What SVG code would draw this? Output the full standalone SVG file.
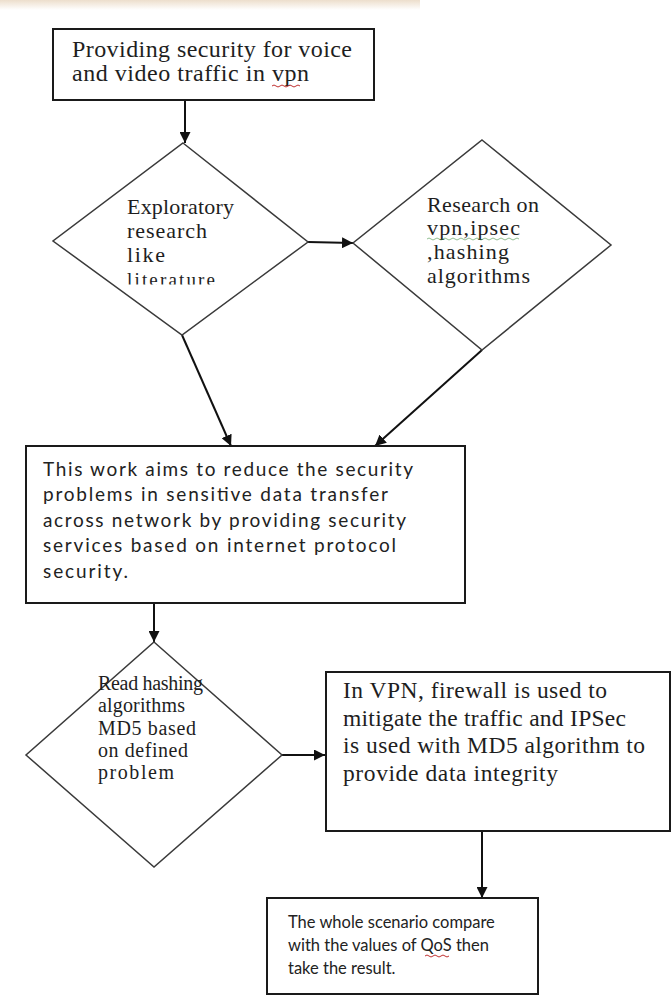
<svg xmlns="http://www.w3.org/2000/svg" width="672" height="1002" viewBox="0 0 672 1002">
<style>
.box{fill:#fff;stroke:#1a1a1a;stroke-width:2}
.dia{fill:#fff;stroke:#3a3a3a;stroke-width:1.5}
.serif{font-family:"Liberation Serif","Times New Roman",serif;fill:#1e1e1e}
.sans{font-family:Lato,"Liberation Sans",sans-serif;fill:#222}
.con{stroke:#111;stroke-width:2;fill:none;marker-end:url(#arr)}
</style>
<defs>
<marker id="arr" viewBox="0 0 10 10" refX="10" refY="5" markerWidth="5.5" markerHeight="5.5" orient="auto" markerUnits="strokeWidth">
<path d="M0,0 L10,5 L0,10 z" fill="#111"/>
</marker>
<linearGradient id="wm" x1="0" y1="0" x2="0" y2="1">
<stop offset="0" stop-color="#e8d6bf" stop-opacity="0.8"/>
<stop offset="1" stop-color="#e8d6bf" stop-opacity="0"/>
</linearGradient>
<clipPath id="clip1"><rect x="100" y="150" width="160" height="134.5"/></clipPath>
</defs>
<rect width="672" height="1002" fill="#fff"/>
<rect x="0" y="0" width="420" height="10" fill="url(#wm)"/>

<g id="connectors">
<line class="con" x1="185" y1="100" x2="185" y2="143"/>
<line class="con" x1="308" y1="242" x2="353" y2="243"/>
<line class="con" x1="182" y1="335" x2="231" y2="446"/>
<line class="con" x1="482" y1="350" x2="375" y2="446"/>
<line class="con" x1="154" y1="603" x2="154" y2="642"/>
<line class="con" x1="282" y1="755" x2="325" y2="755"/>
<line class="con" x1="482" y1="831" x2="482" y2="898"/>
</g>

<g id="n1">
<rect class="box" x="53" y="29" width="321" height="71"/>
<text class="serif" font-size="24" x="72" y="57" textLength="280">Providing security for voice</text>
<text class="serif" font-size="24" x="72" y="81" textLength="237">and video traffic in vpn</text>
<path d="M272,86 q2,-2 4,0 t4,0 t4,0 t4,0 t4,0 t4,0 t4,0" fill="none" stroke="#c03030" stroke-width="1"/>
</g>

<g id="n2">
<polygon class="dia" points="183,143 308,242 182,335 53,241"/>
<text class="serif" font-size="22" x="127" y="214" textLength="107">Exploratory</text>
<text class="serif" font-size="22" x="127" y="238" textLength="80">research</text>
<text class="serif" font-size="22" x="127" y="262" textLength="38">like</text>
<text class="serif" font-size="19" x="127" y="285.5" textLength="88" clip-path="url(#clip1)">literature</text>
</g>

<g id="n3">
<polygon class="dia" points="482,140 611,245 482,350 353,243"/>
<text class="serif" font-size="22" x="427" y="212" textLength="112">Research on</text>
<text class="serif" font-size="22" x="427" y="235" textLength="93">vpn,ipsec</text>
<path d="M427,239 q2,-2 4,0 t4,0 t4,0 t4,0 t4,0 t4,0 t4,0 t4,0 t4,0 t4,0 t4,0 t4,0 t4,0 t4,0 t4,0 t4,0 t4,0 t4,0 t4,0 t4,0 t4,0 t4,0 t4,0" fill="none" stroke="#3a8a3a" stroke-width="0.8" opacity="0.7"/>
<text class="serif" font-size="22" x="427" y="259" textLength="82">,hashing</text>
<text class="serif" font-size="22" x="427" y="283" textLength="103">algorithms</text>
</g>

<g id="n4">
<rect class="box" x="26" y="446" width="439" height="157"/>
<text class="sans" font-size="19" x="43" y="476" textLength="370">This work aims to reduce the security</text>
<text class="sans" font-size="19" x="43" y="501" textLength="345">problems in sensitive data transfer</text>
<text class="sans" font-size="19" x="43" y="527" textLength="363">across network by providing security</text>
<text class="sans" font-size="19" x="43" y="552" textLength="353">services based on internet protocol</text>
<text class="sans" font-size="19" x="43" y="578" textLength="85">security.</text>
</g>

<g id="n5">
<polygon class="dia" points="154,642 282,755 154,867 26,755"/>
<text class="serif" font-size="20" x="98" y="690" textLength="105">Read hashing</text>
<text class="serif" font-size="20" x="98" y="712" textLength="87">algorithms</text>
<text class="serif" font-size="20" x="98" y="735" textLength="98">MD5 based</text>
<text class="serif" font-size="20" x="98" y="757" textLength="90">on defined</text>
<text class="serif" font-size="20" x="98" y="779" textLength="76">problem</text>
</g>

<g id="n6">
<rect class="box" x="326" y="672" width="344" height="159"/>
<text class="serif" font-size="23.5" x="343" y="698" textLength="264">In VPN, firewall is used to</text>
<text class="serif" font-size="23.5" x="343" y="726" textLength="283">mitigate the traffic and IPSec</text>
<text class="serif" font-size="23.5" x="343" y="753" textLength="302">is used with MD5 algorithm to</text>
<text class="serif" font-size="23.5" x="343" y="781" textLength="215">provide data integrity</text>
</g>

<g id="n7">
<rect class="box" x="267" y="898" width="271" height="96"/>
<text class="sans" font-size="16.5" x="288" y="928">The whole scenario compare</text>
<text class="sans" font-size="16.5" x="288" y="951">with the values of QoS then</text>
<path d="M425,956 q2,-2 4,0 t4,0 t4,0 t4,0 t4,0 t4,0" fill="none" stroke="#c03030" stroke-width="1"/>
<text class="sans" font-size="16.5" x="288" y="974">take the result.</text>
</g>
</svg>
